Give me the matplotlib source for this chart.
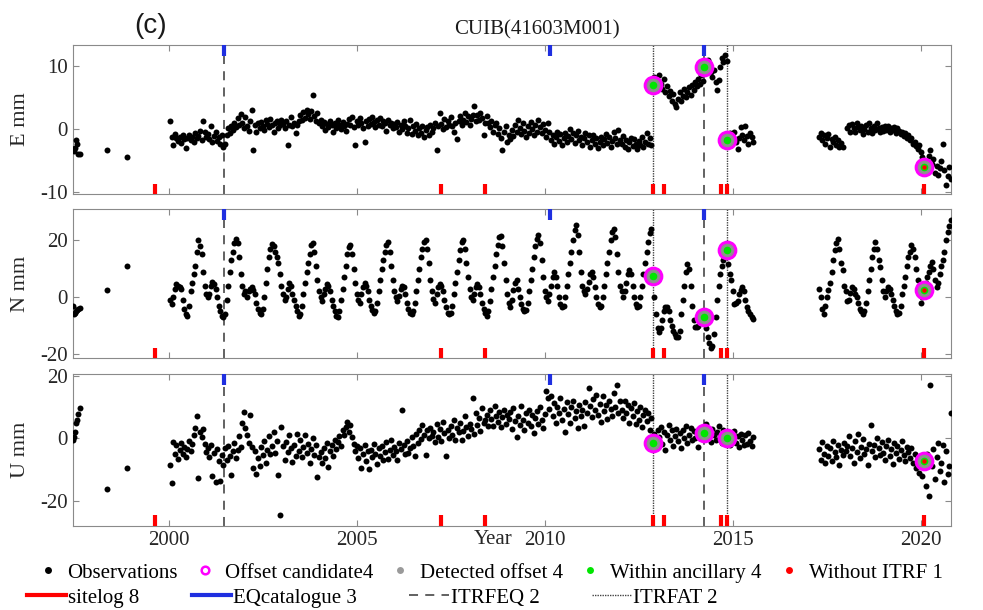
import numpy as np
import matplotlib.pyplot as plt
from matplotlib.lines import Line2D

plt.rcParams['font.family'] = ['Liberation Serif', 'DejaVu Serif']
plt.rcParams['axes.unicode_minus'] = False

# early sparse observations (decimal year)
early_t = [1997.46, 1997.48, 1997.51, 1997.54, 1997.57, 1997.60, 1997.63, 1998.36, 1998.88]
early_e = [-3.2, -3.5, -3.0, -1.7, -2.3, -4.0, -3.9, -3.3, -4.4]
early_n = [-3.0, -6.0, -5.5, -5.0, -4.5, -4.2, -3.8, 2.6, 10.9]
early_u = [-0.5, 0.3, 2.0, 4.8, 5.8, 7.7, 9.8, -16.3, -9.4]

# main block 2000.04 - 2015.54, half-monthly samples
main_start = 2000.04
e_main = [
    1.2, -1.2, -2.5, -0.8, -1.5, -1.9, -1.2, -2.2, -1.0, -1.6, -3.0, -1.4, -0.9, -1.8, -1.3, -2.0, -0.6, -1.5, -1.1, -0.3, -1.7, 1.3, -0.5, -1.2,
    -0.8, -1.6, 0.4, -2.1, -1.1, -0.5, -1.9, -1.3, -2.4, -1.0, -2.9, -2.3, -0.9, 0.2, -0.6, 0.5, -0.2, 1.0, 0.3, 1.8, 0.6, 2.4, 0.9, 0.1,
    1.9, 0.4, -0.3, 1.2, 3.0, -3.3, 0.6, -0.4, 0.9, 0.2, 1.1, 0.5, -0.2, 1.4, 0.8, 0.3, 1.6, 0.7, -0.5, 0.9, 1.3, 0.2, 0.6, 1.5,
    0.8, 0.1, 1.2, -2.5, 0.7, 1.9, 0.4, 1.0, -0.6, 0.6, 1.3, 2.2, 1.5, 2.7, 1.8, 3.0, 2.4, 1.6, 2.9, 5.4, 2.1, 1.2, 2.6, 0.9,
    1.4, 0.5, 1.1, -0.2, 0.8, 0.3, 1.2, 0.6, -0.4, 0.9, 0.2, 1.5, 0.7, 0.0, 1.1, 0.4, -0.3, 0.8, 1.6, 0.6, 1.9, 0.3, -2.5, 1.3,
    0.6, 1.8, 0.9, 0.2, -2.0, 1.2, 0.5, 1.6, 0.8, 1.9, 1.1, 0.3, 1.4, 0.7, 1.8, 0.4, 1.2, 0.9, -0.3, 1.5, 0.6, 1.0, 0.1, 0.8,
    0.3, 1.1, -0.4, 0.7, 0.0, 1.3, 0.5, -0.6, 0.2, 1.4, -0.8, 0.4, -0.3, 0.8, -1.0, 0.1, -0.6, 0.5, -1.2, -0.2, 0.3, -0.9, 0.6, -0.4,
    0.2, 1.0, -3.3, 0.5, 2.5, 0.8, 0.0, 1.6, 0.3, 1.2, 0.6, 1.9, 0.4, -0.5, 0.9, -1.6, 1.3, 2.1, 0.7, 1.5, 2.6, 1.1, 2.0, 0.6,
    1.6, 2.3, 3.7, 1.2, 2.2, 1.4, 2.5, 1.7, -1.0, 0.9, 2.0, 1.0, 0.3, 1.3, -0.5, 0.6, 1.0, -0.8, 0.2, -1.5, -3.3, -0.4, 0.5, -2.0,
    -0.9, -1.6, -0.2, -1.1, 0.6, -0.5, 1.4, 0.2, -0.8, 0.9, -0.3, -1.2, 0.4, -0.6, 1.1, 0.0, -1.0, 0.7, -0.4, 1.5, 0.3, -0.7, 0.8, -0.2,
    -1.3, 0.9, -0.5, -1.8, -0.9, -2.4, -1.2, -0.4, -1.9, -0.8, -2.6, -1.5, -0.7, -2.0, -1.1, 0.0, -1.6, -0.6, -2.2, -1.0, -0.3, -1.8, -1.2, -2.5,
    -1.4, -0.6, -2.1, -1.0, -2.8, -1.7, -0.9, -2.3, -1.5, -3.0, -2.0, -1.2, -2.6, -1.6, -0.8, -2.2, -1.3, -2.9, -1.9, -0.5, -1.4, -2.4, -0.1, -1.7,
    -2.3, -1.1, -2.8, -1.8, -3.2, -2.0, -1.4, -2.7, -1.6, -2.4, -3.1, -1.9, -2.5, -1.2, -2.9, -2.1, -0.6, -2.3, -1.5, -2.6, 7.0, 8.2, 7.5, 6.8,
    8.6, 7.2, 6.4, 7.9, 5.8, 6.9, 5.2, 6.1, 4.4, 5.5, 4.0, 3.5, 4.8, 5.8, 4.5, 5.2, 6.3, 5.0, 5.9, 6.6, 5.4, 7.0, 6.2, 7.4,
    6.8, 7.9, 7.2, 8.6, 7.6, 9.6, 10.4, 11.0, 10.2, 9.0, 8.3, 9.4, 7.5, 6.2, 7.8, 9.9, 11.2, 10.6, 11.7, 10.8, -1.8, -0.7, -2.6, -1.2,
    -0.4, -2.1, -3.2, -1.5, 0.3, -0.9, -1.7, 0.5, -1.1, -2.4, -0.6, -1.3, -2.0,
]
n_main = [
    -1, -2.5, 0, 3, 4.7, 4, 3.5, 3, -1, -4, -6, -6.5, -3, 2, 5, 8, 11, 16, 20, 18, 15, 9, 4, 1,
    0, 1, 4, 5.5, 4.5, 3, 0, -3, -5, -6.5, -7, -6, -1, 4, 9, 13, 16, 19, 20.5, 19, 14, 8, 4, 1,
    2, 0, 2, 3, 3.5, 2.5, 1, -2, -4, -5.5, -6, -4, 0, 5, 10, 14, 17, 18.8, 18, 16, 14, 12, 8, 4,
    1, -1, 0, 3, 5, 4, 1, -1, -3, -5, -6.5, -6, -3, 1, 5, 9, 12, 15, 18.5, 19, 16, 11, 6, 2,
    0, -1.5, 1, 3, 4.5, 4, 2, -1, -3, -5, -6.5, -7, -5, -1, 3, 7, 11, 15, 17.5, 18.2, 15, 10, 5, 1,
    -1, -2, 1, 3.5, 5, 4, 2, -1, -3, -4.5, -5.5, -5, -2, 2, 6, 10, 13, 16, 18.5, 19.4, 16, 11, 6, 2,
    0, -1.5, 0.5, 3, 4, 3.5, 1, -2, -4, -5.5, -6, -5, -2, 2, 6, 10, 14, 17, 19.5, 20.2, 17, 12, 6, 2,
    -0.5, -2, 1, 3.5, 4.5, 4, 2, -1, -3.5, -5.5, -6, -5.5, -3, 1, 5, 9, 13, 16.5, 19.5, 20, 17, 12, 7, 3,
    0, -1, 1, 3.5, 4.5, 3.5, 1, -2, -4, -5.5, -6.5, -5, -1.5, 3, 7, 11, 15, 18.5, 21, 21.5, 18, 12, 6, 1,
    -2, -3.5, -1, 2.5, 5, 5.9, 3, 0, -2.5, -4, -4.7, -4.5, -2, 2, 6, 10, 14, 18, 20.5, 21.8, 19, 13, 7, 2,
    0, -1.2, 1, 4, 7, 8.8, 7, 4, 0, -2.5, -3.5, -3, 0, 4, 8, 12, 16, 20, 23.5, 25.3, 22, 16, 9, 4,
    2, 1.2, 3, 5.5, 8, 8.8, 7, 3.5, 0, -2.5, -3.5, -3, 0, 4, 8, 12, 16, 20, 23, 24.1, 21, 15, 9, 4,
    2, 0, 2, 5, 8, 9.4, 8, 4, 0, -2.5, -3.5, -3, 0, 4, 8, 12, 16, 19.5, 22.5, 24, 7.5, 0, -6, -11,
    -12.4, -11, -8, -5, -3.5, -3.5, -5, -8, -10, -12, -13, -14, -14, -12, -6, -1, 4, 9, 11.8, 10, 4, -3, -8, -10.6,
    -10.6, -10, -8.5, -7, -7, -8, -11, -14, -16, -18, -17, -13, -7, -1, 4, 8, 11, 13, 14.5, 16.5, 11.8, 8, 5.9, 2,
    -2.4, -2, -1.2, 1, 2.5, 3.5, 2, -1, -3.5, -5, -6, -7, -7.5,
]
u_main = [
    -8.6, -14.4, -1.2, -5.0, -2.3, -6.5, -3.8, -1.5, -4.9, -2.7, -6.1, -3.3, -0.8, -4.2, -1.9, 1.2, 3.4, 7.0, -12.8, 2.0, 0.5, 3.0, -1.8, -4.5,
    -3.2, -6.0, -2.1, -12.2, -4.8, -14.0, -3.5, -7.2, -13.6, -5.4, -8.6, -3.0, -6.8, -2.4, -5.7, -11.8, -4.1, -1.6, -6.3, -3.7, 0.6, -2.8, 4.8, 8.5,
    3.2, 1.0, -1.5, 7.6, -2.8, -9.5, -4.0, -11.5, -6.2, -8.8, -2.9, -5.3, -1.0, -7.8, -3.6, 0.8, -5.0, -2.6, 1.9, -4.7, -0.8, -11.8, -24.6, 3.7,
    -2.5, -6.8, -1.2, -4.4, 0.9, -3.1, -7.5, -2.0, -5.6, 1.5, -3.9, -0.6, -6.1, -2.7, 1.2, -4.8, -1.9, -7.9, -3.4, 0.2, -5.2, -2.3, -12.4, -6.0,
    -4.5, -8.0, -3.0, -6.2, -1.5, -9.2, -4.1, -2.2, -5.8, -0.6, -3.5, -1.2, 0.8, -2.4, 2.6, 1.0, 3.5, 5.3, 2.0, 4.1, 0.3, -1.8, -4.0, -2.5,
    -6.3, -3.2, -9.6, -5.0, -2.1, -7.4, -4.2, -9.8, -3.6, -6.0, -1.8, -4.9, -8.1, -3.0, -5.5, -2.4, -7.0, -4.4, -1.2, -6.6, -3.8, -0.5, -5.2, -2.7,
    -4.0, -6.9, -1.6, -3.5, 9.2, -2.2, -5.1, -0.9, -4.6, -3.0, 0.4, -2.5, -5.8, 1.3, -1.4, 2.6, -0.3, 4.2, 1.0, -5.3, 2.5, 0.1, 3.4, 0.7,
    2.0, -1.2, 4.5, 0.3, 3.1, -0.8, 5.2, 1.6, -5.5, 2.8, 0.0, 4.0, 1.2, 6.0, -0.4, 3.3, 1.9, 5.0, -0.6, 2.4, 7.2, 3.6, 0.8, 4.7,
    3.0, 12.8, 1.5, 8.0, 4.4, 6.5, 2.2, 9.6, 5.0, 5.8, 7.3, 3.8, 8.9, 6.1, 4.0, 10.2, 7.0, 5.2, 8.4, 3.5, 6.8, 9.0, 4.6, 7.6,
    6.2, 8.5, 3.0, 9.8, 5.5, 0.5, 7.2, 4.1, 10.4, 6.0, 2.6, 8.0, 5.0, 9.2, 3.8, 7.4, 1.8, 6.6, 8.8, 4.5, 10.0, 5.8, 3.2, 7.9,
    15.0, 12.8, 9.5, 13.6, 7.0, 11.2, 4.8, 10.0, 8.2, 13.0, 6.0, 9.4, 2.1, 11.5, 7.8, 5.0, 9.9, 12.0, 6.5, 8.6, 3.3, 10.6, 7.2, 9.0,
    4.0, 11.5, 8.0, 16.0, 10.2, 6.8, 12.5, 9.0, 14.0, 7.4, 11.0, 5.2, 13.4, 8.6, 10.8, 6.2, 12.0, 9.5, 7.0, 14.5, 10.0, 17.0, 8.2, 11.8,
    9.0, 6.5, 12.0, 8.0, 10.5, 5.0, 9.8, 7.2, 11.4, 4.6, 8.8, 6.0, 10.0, 3.5, 7.5, 9.2, 5.5, 8.0, 2.8, 6.4, -1.6, 1.5, -2.0, 2.8,
    0.5, 3.6, -1.8, 2.0, -3.6, 1.2, 4.3, -0.6, 2.5, -2.4, 0.8, 3.0, -1.0, 1.8, -3.0, 2.6, 0.2, 4.0, -1.5, 1.0, 3.2, -0.4, 2.2, 0.0,
    1.6, -2.8, 2.9, 0.4, 3.5, 1.6, 4.5, 0.8, 2.4, -1.2, 3.0, 1.0, -0.5, 2.0, 4.0, 0.5, -1.6, 2.6, 0.0, 1.5, 0.0, -2.0, 1.8, -0.8,
    2.2, -1.5, 0.6, -2.8, 1.5, -0.6, -2.2, 0.9, -1.8, 1.6, -0.9, -2.5, 0.3,
]

# last block 2017.29 - 2020.79
tail_start = 2017.29
e_tail = [
    -1.2, -0.7, -1.8, -1.0, -2.3, -1.5, -0.8, -2.8, -1.6, -2.1, -1.3, -2.5, -1.8, -2.9, -2.2, -2.9,
    np.nan, np.nan,
    0.2, 0.6, -0.4, 0.8, 0.1, -0.5, 0.9, 0.3, -0.2, 0.5, -0.8, 0.0, 0.6, -0.4, 1.0, 0.2, -0.6, 0.4, -0.2, 0.9, 0.1, -0.5, 0.3, -0.3,
    0.4, -0.1, 0.5, -0.4, 0.2, -0.2, 0.3, -0.6, 0.1, -0.3, -0.8, -0.5, -1.1, -0.7, -1.4, -1.0, -1.8, -1.5, -2.3, -2.0, -2.7, -3.1, -2.6, -3.6,
    -4.4, -6.0, -5.2, -6.6, -4.3, -3.3, -5.5, -4.8, -6.9, -5.9, -7.3, -6.2, -5.0, -2.3, -6.5, -8.9, -7.4, -6.1, -8.0,
]
n_tail = [
    3, 0, -4, -6, -3, 0, 2.4, 5, 9, 13, 16.5, 19, 20.6, 17, 12, 9.4, 4,
    2, -1.2, -1, 1.5, 3.5, 3, 1, 0, -2, -4, -5, -6, -5, -2, 2, 6, 10, 14, 17, 19.4, 17, 13, 10.6, 6,
    2, 0, 2, 3.5, 3, 1, -1, -3, -5, -6, -5.5, -3, 1, 4, 7, 11, 14, 16, 18.2, 17, 14, 10, 6, 2,
    -2, 0, 2.6, 5, 7, 9, 11, 12.4, 10, 6, 3.5, 5, 8, 11, 13, 16, 20, 23, 25, 27,
]
u_tail = [
    -3.5, -6.8, -1.2, -4.9, -8.0, -2.4, -5.6, -3.0, -7.2, -0.8, -4.4, -6.0, -2.0, -8.5, -3.8, -5.2, -1.5, -4.0,
    -2.5, 0.8, -5.6, -3.2, -7.8, -1.0, -4.5, 1.5, -6.4, -2.8, -0.2, -5.0, -3.5, -8.6, -1.8, 4.3, -4.2, -2.2, -6.0, 0.2, -3.0, -5.4,
    -1.2, -4.6, -7.0, -2.6, -0.5, -5.8, -3.4, -8.2, -1.6, -4.8, -2.4, -6.6, -3.8, -0.8, -5.2, -7.4, -2.9, -4.4, -6.2, -3.1, -8.0, -5.0,
    -9.5, -6.4, -11.0, -8.2,
    -12.0, -7.3, -15.2, -5.0, -18.4, 17.0, -9.0, -3.5, -13.0, -6.0, -1.5, -10.5, -7.8, -2.2, -14.0, -4.0, -11.5, -8.8, 8.0,
]

# offset candidates
cand_t = [2012.87, 2014.23, 2014.84, 2020.08]
cand_e = [7.0, 9.8, -1.8, -6.0]
cand_n = [7.5, -7.0, 16.5, 2.6]
cand_u = [-1.6, 1.6, 0.0, -7.3]
no_itrf_idx = [3]

# ancillary information
sitelog_t = [1999.63, 2007.23, 2008.40, 2012.87, 2013.16, 2014.68, 2014.84, 2020.08]
eq_t = [2001.46, 2010.13, 2014.23]
itrf_eq_t = [2001.46, 2014.23]
itrf_at_t = [2012.87, 2014.84]

panels = [
    ('E mm', early_e, e_main, e_tail, cand_e, (-10.3, 13.3), [-10, 0, 10]),
    ('N mm', early_n, n_main, n_tail, cand_n, (-21.4, 30.9), [-20, 0, 20]),
    ('U mm', early_u, u_main, u_tail, cand_u, (-28.0, 20.6), [-20, 0, 20]),
]
rects = [
    [0.074, 0.682, 0.8935, 0.244],
    [0.074, 0.413, 0.8935, 0.244],
    [0.074, 0.138, 0.8935, 0.249],
]

step = 1 / 24
fig = plt.figure(figsize=(9.83, 6.10), dpi=100)

for (label, early, main, tail, cand, ylim, yticks), rect in zip(panels, rects):
    ax = fig.add_axes(rect)
    t_main = main_start + np.arange(len(main)) * step
    t_tail = tail_start + np.arange(len(tail)) * step
    for tt, vv in [(early_t, early), (t_main, main), (t_tail, tail)]:
        ax.plot(tt, vv, 'o', color='black', ms=4.3, mew=0, zorder=3)

    for x in itrf_eq_t:
        ax.axvline(x, color='#555555', lw=1.3, dashes=(5, 4), zorder=2)
    for x in itrf_at_t:
        ax.axvline(x, color='#444444', lw=1.0, dashes=(1, 0.8), zorder=2)

    xa = ax.get_xaxis_transform()
    ax.vlines(sitelog_t, 0, 0.07, transform=xa, color='red', lw=3, zorder=4)
    ax.vlines(eq_t, 0.93, 1.0, transform=xa, color='#1f2fe0', lw=3, zorder=4)

    ax.plot(cand_t, cand, 'o', ms=12, mfc='#8f8f8f', mec='#ff00ff', mew=2.2, zorder=5)
    ax.plot(cand_t, cand, 'o', ms=5.5, color='#00e600', mew=0, zorder=6)
    ax.plot([cand_t[i] for i in no_itrf_idx], [cand[i] for i in no_itrf_idx], 'o',
            ms=3.2, color='red', mew=0, zorder=7)

    ax.set_xlim(1997.45, 2020.8)
    ax.set_ylim(*ylim)
    ax.set_yticks(yticks)
    ax.set_xticks([2000, 2005, 2010, 2015, 2020])
    ax.tick_params(direction='in', length=4, top=True, right=True,
                   color='#8a8a8a', labelcolor='#262626', labelsize=15)
    if rect is not rects[-1]:
        ax.tick_params(labelbottom=False)
    for s in ax.spines.values():
        s.set_color('#8a8a8a')
    ax.set_ylabel(label, fontsize=16, color='#262626')
    ax.yaxis.set_label_coords(-0.049, 0.5)

fig.text(0.546, 0.951, 'CUIB(41603M001)', ha='center', va='center', fontsize=15, color='#1a1a1a')
fig.text(0.153, 0.958, '(c)', ha='center', va='center', fontsize=20,
         family=['Liberation Sans', 'DejaVu Sans'], color='#1a1a1a')
fig.text(0.502, 0.116, 'Year', ha='center', va='center', fontsize=15, color='#262626')

row1 = [
    Line2D([], [], ls='none', marker='o', ms=5, color='black', mew=0),
    Line2D([], [], ls='none', marker='o', ms=5.5, mfc='none', mec='#ff00ff', mew=1.8),
    Line2D([], [], ls='none', marker='o', ms=5, color='#9a9a9a', mew=0),
    Line2D([], [], ls='none', marker='o', ms=5, color='#00e600', mew=0),
    Line2D([], [], ls='none', marker='o', ms=5, color='red', mew=0),
]
labels1 = ['Observations', 'Offset candidate4', 'Detected offset 4', 'Within ancillary 4', 'Without ITRF 1']
row2 = [
    Line2D([], [], color='red', lw=3),
    Line2D([], [], color='#1f2fe0', lw=3),
    Line2D([], [], color='#555555', lw=1.3, dashes=(5, 4)),
    Line2D([], [], color='#444444', lw=1.0, dashes=(1, 0.8)),
]
labels2 = ['sitelog 8', 'EQcatalogue 3', 'ITRFEQ 2', 'ITRFAT 2']

fig.legend(row1, labels1, loc='center left', bbox_to_anchor=(0.038, 0.061), ncol=5,
           frameon=False, fontsize=15, handlelength=1.0, handletextpad=0.45,
           columnspacing=0.8, borderpad=0, borderaxespad=0)
fig.legend(row2, labels2, loc='center left', bbox_to_anchor=(0.027, 0.020), ncol=4,
           frameon=False, fontsize=15, handlelength=1.9, handletextpad=0.1,
           columnspacing=2.5, borderpad=0, borderaxespad=0)

fig.savefig('out.png', dpi=100)
